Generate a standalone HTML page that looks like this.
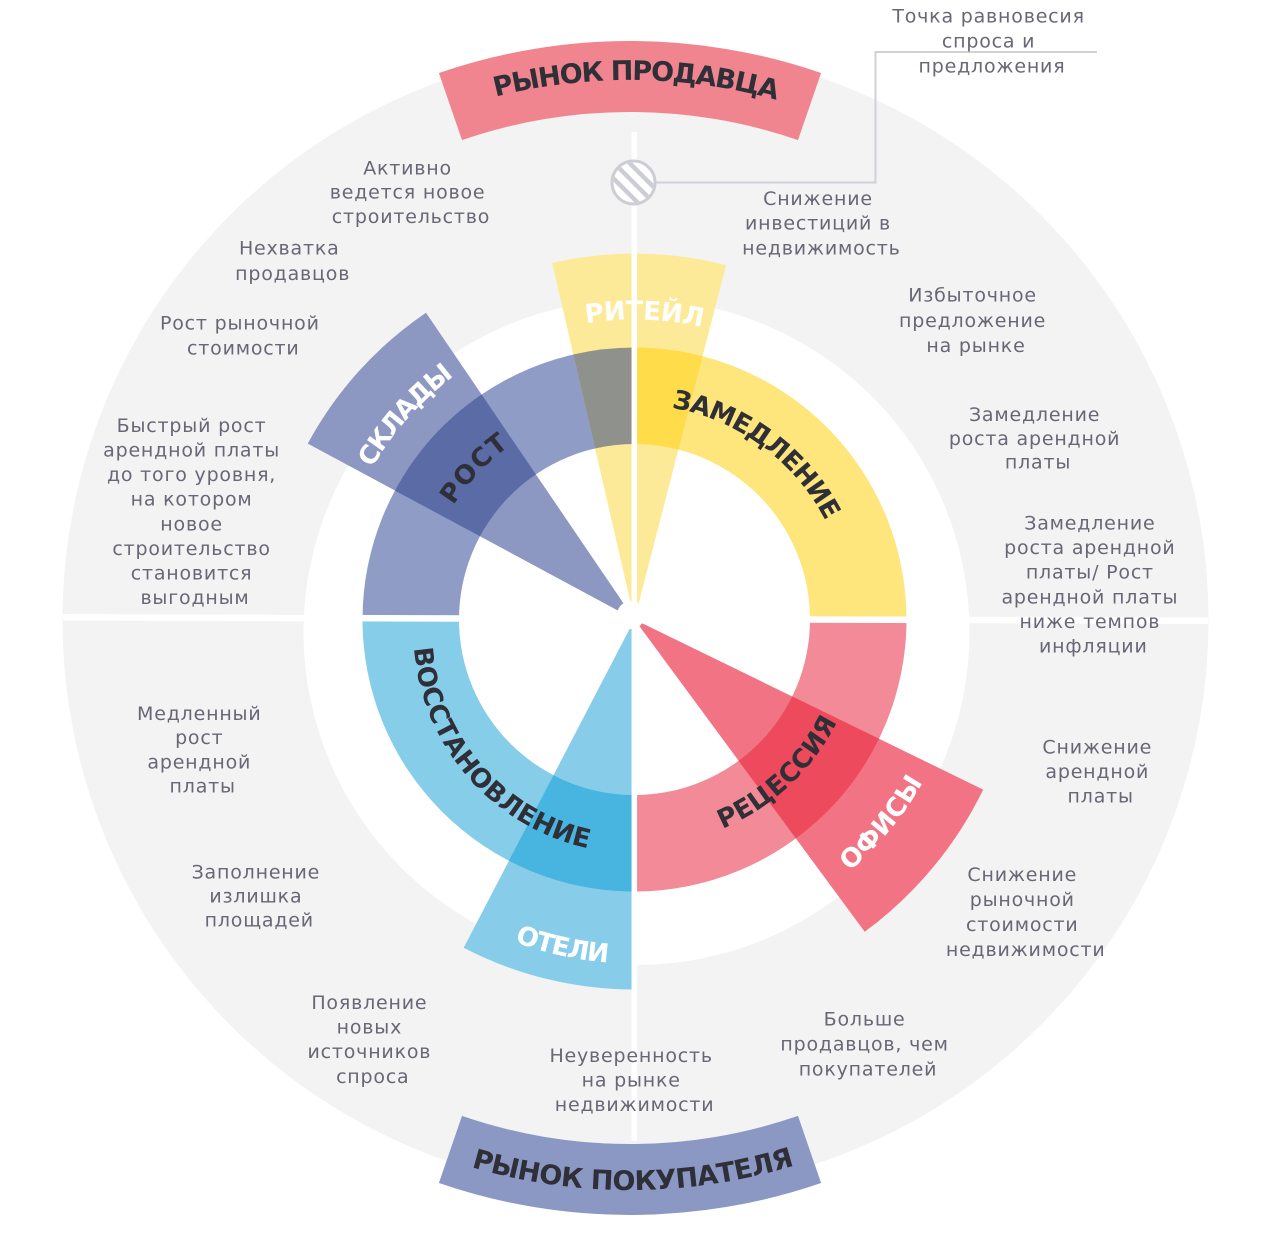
<!DOCTYPE html>
<html>
<head>
<meta charset="utf-8">
<style>
  html,body{margin:0;padding:0;background:#fff;}
  svg{display:block;}
  .t{font-family:"DejaVu Sans","Liberation Sans",sans-serif;font-size:19px;fill:#676775;letter-spacing:0.8px;}
  .b{font-family:"DejaVu Sans","Liberation Sans",sans-serif;font-size:26px;font-weight:bold;}
  .w{fill:#ffffff;}
  .d{fill:#2f2f38;}
</style>
</head>
<body>
<svg width="1280" height="1240" viewBox="0 0 1280 1240" xmlns="http://www.w3.org/2000/svg">
  <defs>
    <path id="pRit" d="M 586.0 323.4 A 300 300 0 0 1 702.0 327.2"/>
    <path id="pSkl" d="M 372.1 468.0 A 303 303 0 0 1 454.3 375.9"/>
    <path id="pRost" d="M 453.4 505.5 A 214 214 0 0 1 510.5 445.1"/>
    <path id="pZam" d="M 671.5 407.7 A 215 215 0 0 1 825.6 520.9"/>
    <path id="pRec" d="M 722.5 828.8 A 227 227 0 0 0 837.5 721.1"/>
    <path id="pVos" d="M 414.1 648.2 A 221 221 0 0 0 588.9 848.3"/>
    <path id="pOf" d="M 849.5 871.2 A 331 331 0 0 0 923.2 781.5"/>
    <path id="pOt" d="M 514.6 941.9 A 344 344 0 0 0 609.3 962.6"/>
    <path id="pTop" d="M 495.6 96.7 A 548 548 0 0 1 776.4 99.9"/>
    <path id="pBot" d="M 471.3 1167.1 A 562 562 0 0 0 796.2 1164.9"/>
    <clipPath id="hc"><circle cx="633.5" cy="182.5" r="20"/></clipPath>
  </defs>

  <rect width="1280" height="1240" fill="#ffffff"/>
  <circle cx="635.5" cy="620" r="573" fill="#f3f3f3"/>
  <circle cx="636.5" cy="632" r="333" fill="#ffffff"/>

  <path d="M 438.9 73.0 A 587 587 0 0 1 821.1 73.0 L 798.0 140.1 A 516 516 0 0 0 462.0 140.1 Z" fill="#f1858f"/>
  <path d="M 462.0 1115.9 A 516 516 0 0 0 798.0 1115.9 L 821.1 1183.0 A 587 587 0 0 1 438.9 1183.0 Z" fill="#8c98c4"/>

  <path d="M 362.5 619.5 A 272 272 0 0 1 634.5 347.5 L 634.5 444 A 175.5 175.5 0 0 0 459 619.5 Z" fill="#8f9cc6"/>
  <path d="M 634.5 347.5 A 272 272 0 0 1 906.5 619.5 L 810 619.5 A 175.5 175.5 0 0 0 634.5 444 Z" fill="#fee57c"/>
  <path d="M 906.5 619.5 A 272 272 0 0 1 634.5 891.5 L 634.5 795 A 175.5 175.5 0 0 0 810 619.5 Z" fill="#f38a97"/>
  <path d="M 634.5 891.5 A 272 272 0 0 1 362.5 619.5 L 459 619.5 A 175.5 175.5 0 0 0 634.5 795 Z" fill="#86cdea"/>

  <path d="M 634.5 619.5 L 552.2 262.9 A 366 366 0 0 1 726.1 265.2 Z" fill="#fdea98"/>
  <path d="M 634.5 619.5 L 307.8 443.6 A 371 371 0 0 1 426.0 312.7 Z" fill="#8c98c2"/>
  <path d="M 634.5 619.5 L 983.2 789.6 A 388 388 0 0 1 864.7 931.8 Z" fill="#f27383"/>
  <path d="M 634.5 619.5 L 634.5 989.5 A 370 370 0 0 1 463.7 947.7 Z" fill="#87cdea"/>

  <path d="M 573.3 354.5 A 272 272 0 0 1 634.5 347.5 L 634.5 444 A 175.5 175.5 0 0 0 595.0 448.5 Z" fill="#8f918c"/>
  <path d="M 634.5 347.5 A 272 272 0 0 1 702.6 356.2 L 678.4 449.6 A 175.5 175.5 0 0 0 634.5 444 Z" fill="#fedc4a"/>
  <path d="M 395.0 490.6 A 272 272 0 0 1 481.6 394.5 L 535.9 474.4 A 175.5 175.5 0 0 0 480.0 536.3 Z" fill="#5a6ba6"/>
  <path d="M 879.0 738.7 A 272 272 0 0 1 795.9 838.4 L 738.6 760.8 A 175.5 175.5 0 0 0 792.2 696.4 Z" fill="#ee4a5e"/>
  <path d="M 634.5 891.5 A 272 272 0 0 1 508.9 860.8 L 553.5 775.2 A 175.5 175.5 0 0 0 634.5 795 Z" fill="#48b4e0"/>

  <line x1="63" y1="617.3" x2="1208" y2="620.7" stroke="#ffffff" stroke-width="6.5"/>
  <line x1="634.3" y1="132" x2="634.3" y2="1141" stroke="#ffffff" stroke-width="5.5"/>
  <circle cx="631" cy="615" r="14" fill="#ffffff"/>

  <polyline points="655,182.5 875.5,182.5 875.5,52 1097,52" fill="none" stroke="#cfd0d8" stroke-width="2"/>
  <circle cx="633.5" cy="182.5" r="21.5" fill="#ffffff"/>
  <g clip-path="url(#hc)" stroke="#cdcdd5" stroke-width="4.5">
    <line x1="593.0" y1="173.4" x2="643.0" y2="223.4"/>
    <line x1="600.8" y1="165.7" x2="650.8" y2="215.7"/>
    <line x1="608.5" y1="157.5" x2="658.5" y2="207.5"/>
    <line x1="616.3" y1="149.7" x2="666.3" y2="199.7"/>
    <line x1="624.1" y1="141.9" x2="674.1" y2="191.9"/>
  </g>
  <circle cx="633.5" cy="182.5" r="21.5" fill="none" stroke="#cdcdd5" stroke-width="3"/>

  <text class="b w"><textPath href="#pRit" textLength="117" lengthAdjust="spacing">РИТЕЙЛ</textPath></text>
  <text class="b w"><textPath href="#pSkl" textLength="124" lengthAdjust="spacing">СКЛАДЫ</textPath></text>
  <text class="b d"><textPath href="#pRost" textLength="82" lengthAdjust="spacing">РОСТ</textPath></text>
  <text class="b d"><textPath href="#pZam" textLength="198" lengthAdjust="spacing">ЗАМЕДЛЕНИЕ</textPath></text>
  <text class="b d"><textPath href="#pRec" textLength="160" lengthAdjust="spacing">РЕЦЕССИЯ</textPath></text>
  <text class="b d"><textPath href="#pVos" textLength="284" lengthAdjust="spacing">ВОССТАНОВЛЕНИЕ</textPath></text>
  <text class="b w"><textPath href="#pOf" textLength="116" lengthAdjust="spacing">ОФИСЫ</textPath></text>
  <text class="b w"><textPath href="#pOt" textLength="96" lengthAdjust="spacing">ОТЕЛИ</textPath></text>
  <text class="b d" style="font-size:27px"><textPath href="#pTop" textLength="284" lengthAdjust="spacing">РЫНОК ПРОДАВЦА</textPath></text>
  <text class="b d" style="font-size:27px"><textPath href="#pBot" textLength="328" lengthAdjust="spacing">РЫНОК ПОКУПАТЕЛЯ</textPath></text>

  <text class="t" text-anchor="middle">
    <tspan x="411" y="174.5">Активно</tspan>
    <tspan x="411" dy="24.2">ведется новое</tspan>
    <tspan x="411" dy="24.2">строительство</tspan>
  </text>
  <text class="t" text-anchor="middle">
    <tspan x="292.7" y="254.3">Нехватка</tspan>
    <tspan x="292.7" dy="25.5">продавцов</tspan>
  </text>
  <text class="t" text-anchor="middle">
    <tspan x="243.3" y="329.3">Рост рыночной</tspan>
    <tspan x="243.3" dy="25">стоимости</tspan>
  </text>
  <text class="t" text-anchor="middle">
    <tspan x="195" y="432">Быстрый рост</tspan>
    <tspan x="195" dy="24.57">арендной платы</tspan>
    <tspan x="195" dy="24.57">до того уровня,</tspan>
    <tspan x="195" dy="24.57">на котором</tspan>
    <tspan x="195" dy="24.57">новое</tspan>
    <tspan x="195" dy="24.57">строительство</tspan>
    <tspan x="195" dy="24.57">становится</tspan>
    <tspan x="195" dy="24.57">выгодным</tspan>
  </text>
  <text class="t" text-anchor="middle">
    <tspan x="821.4" y="205">Снижение</tspan>
    <tspan x="821.4" dy="24.65">инвестиций в</tspan>
    <tspan x="821.4" dy="24.65">недвижимость</tspan>
  </text>
  <text class="t" text-anchor="middle">
    <tspan x="992" y="22.7">Точка равновесия</tspan>
    <tspan x="992" dy="25">спроса и</tspan>
    <tspan x="992" dy="25">предложения</tspan>
  </text>
  <text class="t" text-anchor="middle">
    <tspan x="976" y="301.7">Избыточное</tspan>
    <tspan x="976" dy="25.2">предложение</tspan>
    <tspan x="976" dy="25.2">на рынке</tspan>
  </text>
  <text class="t" text-anchor="middle">
    <tspan x="1038" y="421">Замедление</tspan>
    <tspan x="1038" dy="23.85">роста арендной</tspan>
    <tspan x="1038" dy="23.85">платы</tspan>
  </text>
  <text class="t" text-anchor="middle">
    <tspan x="1093.3" y="529.3">Замедление</tspan>
    <tspan x="1093.3" dy="24.68">роста арендной</tspan>
    <tspan x="1093.3" dy="24.68">платы/ Рост</tspan>
    <tspan x="1093.3" dy="24.68">арендной платы</tspan>
    <tspan x="1093.3" dy="24.68">ниже темпов</tspan>
    <tspan x="1093.3" dy="24.68">инфляции</tspan>
  </text>
  <text class="t" text-anchor="middle">
    <tspan x="1100.7" y="753.7">Снижение</tspan>
    <tspan x="1100.7" dy="24.5">арендной</tspan>
    <tspan x="1100.7" dy="24.5">платы</tspan>
  </text>
  <text class="t" text-anchor="middle">
    <tspan x="1025.7" y="881">Снижение</tspan>
    <tspan x="1025.7" dy="25">рыночной</tspan>
    <tspan x="1025.7" dy="25">стоимости</tspan>
    <tspan x="1025.7" dy="25">недвижимости</tspan>
  </text>
  <text class="t" text-anchor="middle">
    <tspan x="868" y="1025.3">Больше</tspan>
    <tspan x="868" dy="25">продавцов, чем</tspan>
    <tspan x="868" dy="25">покупателей</tspan>
  </text>
  <text class="t" text-anchor="middle">
    <tspan x="634.6" y="1062">Неуверенность</tspan>
    <tspan x="634.6" dy="24.5">на рынке</tspan>
    <tspan x="634.6" dy="24.5">недвижимости</tspan>
  </text>
  <text class="t" text-anchor="middle">
    <tspan x="372.8" y="1009">Появление</tspan>
    <tspan x="372.8" dy="24.6">новых</tspan>
    <tspan x="372.8" dy="24.6">источников</tspan>
    <tspan x="372.8" dy="24.6">спроса</tspan>
  </text>
  <text class="t" text-anchor="middle">
    <tspan x="259.3" y="878.3">Заполнение</tspan>
    <tspan x="259.3" dy="24.2">излишка</tspan>
    <tspan x="259.3" dy="24.2">площадей</tspan>
  </text>
  <text class="t" text-anchor="middle">
    <tspan x="202.7" y="720">Медленный</tspan>
    <tspan x="202.7" dy="24.2">рост</tspan>
    <tspan x="202.7" dy="24.2">арендной</tspan>
    <tspan x="202.7" dy="24.2">платы</tspan>
  </text>
</svg>
</body>
</html>
